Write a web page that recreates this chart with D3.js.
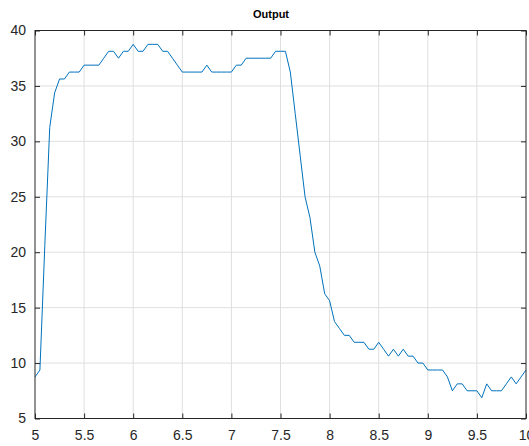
<!DOCTYPE html>
<html>
<head>
<meta charset="utf-8">
<script src="https://cdn.jsdelivr.net/npm/d3@7"></script>
<style>
  body { margin: 0; background: #fff; }
  .tick text { font-family: "Liberation Sans", Arial, sans-serif; font-size: 14px; fill: #262626; }
</style>
</head>
<body>
<script>
// Sample times (s)
const time = [
  5.00, 5.05, 5.10, 5.15, 5.20, 5.25, 5.30, 5.35, 5.40, 5.45,
  5.50, 5.55, 5.60, 5.65, 5.70, 5.75, 5.80, 5.85, 5.90, 5.95,
  6.00, 6.05, 6.10, 6.15, 6.20, 6.25, 6.30, 6.35, 6.40, 6.45,
  6.50, 6.55, 6.60, 6.65, 6.70, 6.75, 6.80, 6.85, 6.90, 6.95,
  7.00, 7.05, 7.10, 7.15, 7.20, 7.25, 7.30, 7.35, 7.40, 7.45,
  7.50, 7.55, 7.60, 7.65, 7.70, 7.75, 7.80, 7.85, 7.90, 7.95,
  8.00, 8.05, 8.10, 8.15, 8.20, 8.25, 8.30, 8.35, 8.40, 8.45,
  8.50, 8.55, 8.60, 8.65, 8.70, 8.75, 8.80, 8.85, 8.90, 8.95,
  9.00, 9.05, 9.10, 9.15, 9.20, 9.25, 9.30, 9.35, 9.40, 9.45,
  9.50, 9.55, 9.60, 9.65, 9.70, 9.75, 9.80, 9.85, 9.90, 9.95,
  10.00
];

// Output values
const output = [
  8.75, 9.375, 20.625, 31.25, 34.375, 35.625, 35.625, 36.25, 36.25, 36.25,
  36.875, 36.875, 36.875, 36.875, 37.5, 38.125, 38.125, 37.5, 38.125, 38.125,
  38.75, 38.125, 38.125, 38.75, 38.75, 38.75, 38.125, 38.125, 37.5, 36.875,
  36.25, 36.25, 36.25, 36.25, 36.25, 36.875, 36.25, 36.25, 36.25, 36.25,
  36.25, 36.875, 36.875, 37.5, 37.5, 37.5, 37.5, 37.5, 37.5, 38.125,
  38.125, 38.125, 36.25, 32.5, 28.75, 25.0, 23.125, 20.0, 18.75, 16.25,
  15.625, 13.75, 13.125, 12.5, 12.5, 11.875, 11.875, 11.875, 11.25, 11.25,
  11.875, 11.25, 10.625, 11.25, 10.625, 11.25, 10.625, 10.625, 10.0, 10.0,
  9.375, 9.375, 9.375, 9.375, 8.75, 7.5, 8.125, 8.125, 7.5, 7.5,
  7.5, 6.875, 8.125, 7.5, 7.5, 7.5, 8.125, 8.75, 8.125, 8.75,
  9.375
];

// Tick values
const xTicks = [5, 5.5, 6, 6.5, 7, 7.5, 8, 8.5, 9, 9.5, 10];
const yTicks = [5, 10, 15, 20, 25, 30, 35, 40];

const width = 529;
const height = 446;
const margin = { top: 30.5, right: 3, bottom: 27.5, left: 35 };
const plotW = width - margin.left - margin.right;
const plotH = height - margin.top - margin.bottom;

const svg = d3.select('body')
  .append('svg')
    .attr('width', width)
    .attr('height', height);

const x = d3.scaleLinear().domain([5, 10]).range([0, plotW]);
const y = d3.scaleLinear().domain([5, 40]).range([plotH, 0]);

const g = svg.append('g')
    .attr('transform', `translate(${margin.left},${margin.top})`);

// Grid
g.append('g')
  .selectAll('line')
  .data(xTicks.slice(1, -1))
  .enter().append('line')
    .attr('x1', (d) => x(d)).attr('x2', (d) => x(d))
    .attr('y1', 0).attr('y2', plotH)
    .attr('stroke', '#dfdfdf')
    .attr('stroke-width', 1);

g.append('g')
  .selectAll('line')
  .data(yTicks.slice(1, -1))
  .enter().append('line')
    .attr('x1', 0).attr('x2', plotW)
    .attr('y1', (d) => y(d)).attr('y2', (d) => y(d))
    .attr('stroke', '#dfdfdf')
    .attr('stroke-width', 1);

// Data line
const line = d3.line()
  .x((d, i) => x(time[i]))
  .y((d) => y(d));

g.append('path')
    .datum(output)
    .attr('fill', 'none')
    .attr('stroke', '#0072bd')
    .attr('stroke-width', 1)
    .attr('d', line);

// Axes (ticks point inward, MATLAB style)
const styleAxis = (sel) => {
  sel.select('.domain').remove();
  sel.selectAll('.tick line').attr('stroke', '#262626');
};

g.append('g')
    .attr('transform', `translate(0,${plotH})`)
    .call(d3.axisBottom(x).tickValues(xTicks).tickSize(-5).tickPadding(12).tickFormat(d3.format('')))
    .call(styleAxis);

g.append('g')
    .call(d3.axisTop(x).tickValues(xTicks).tickSize(-5).tickFormat(''))
    .call(styleAxis);

g.append('g')
    .call(d3.axisLeft(y).tickValues(yTicks).tickSize(-5).tickPadding(9).tickFormat(d3.format('')))
    .call(styleAxis);

g.append('g')
    .attr('transform', `translate(${plotW},0)`)
    .call(d3.axisRight(y).tickValues(yTicks).tickSize(-5).tickFormat(''))
    .call(styleAxis);

// Box
g.append('rect')
    .attr('x', 0).attr('y', 0)
    .attr('width', plotW).attr('height', plotH)
    .attr('fill', 'none')
    .attr('stroke', '#262626')
    .attr('stroke-width', 1);

// Title
svg.append('text')
    .attr('x', 271)
    .attr('y', 18)
    .attr('text-anchor', 'middle')
    .attr('font-family', '"Liberation Sans", Arial, sans-serif')
    .attr('font-size', 11)
    .attr('font-weight', 'bold')
    .attr('fill', '#000')
    .text('Output');
</script>
</body>
</html>
